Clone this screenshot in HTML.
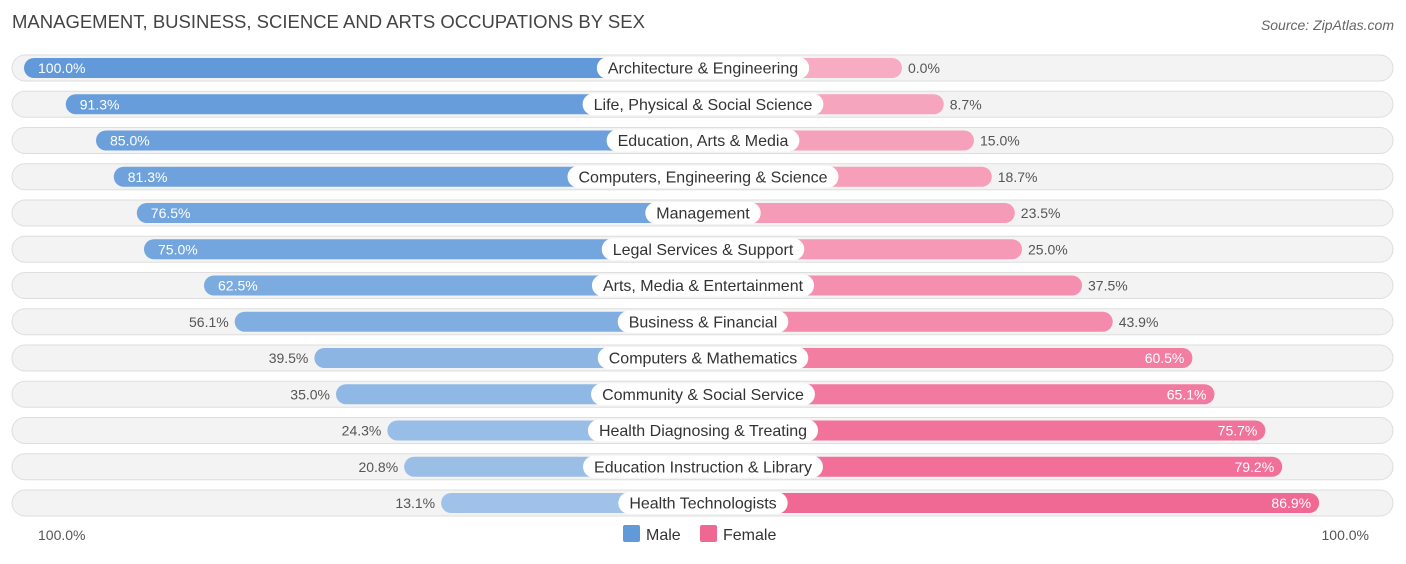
<!DOCTYPE html>
<html><head><meta charset="utf-8">
<style>
body{margin:0;background:#fff;font-family:"Liberation Sans",sans-serif;}
svg text{font-family:"Liberation Sans",sans-serif;}
</style></head>
<body>
<svg id="chart" width="1406" height="559" xmlns="http://www.w3.org/2000/svg">
<text x="12" y="28" font-size="18.5" fill="#444">MANAGEMENT, BUSINESS, SCIENCE AND ARTS OCCUPATIONS BY SEX</text>
<text x="1394" y="30" font-size="14" fill="#666" font-style="italic" text-anchor="end">Source: ZipAtlas.com</text>
<g id="rows"></g>
<text x="38" y="540" font-size="14" fill="#555">100.0%</text>
<text x="1369" y="540" font-size="14" fill="#555" text-anchor="end">100.0%</text>
<rect x="623" y="525" width="17" height="17" rx="2" fill="#6199d9"/>
<text x="646" y="540" font-size="16" fill="#333">Male</text>
<rect x="700" y="525" width="17" height="17" rx="2" fill="#f06792"/>
<text x="723" y="540" font-size="16" fill="#333">Female</text>
</svg>
<script>
const categories=["Architecture & Engineering","Life, Physical & Social Science","Education, Arts & Media","Computers, Engineering & Science","Management","Legal Services & Support","Arts, Media & Entertainment","Business & Financial","Computers & Mathematics","Community & Social Service","Health Diagnosing & Treating","Education Instruction & Library","Health Technologists"];
const maleValues=[100.0,91.3,85.0,81.3,76.5,75.0,62.5,56.1,39.5,35.0,24.3,20.8,13.1];
const femaleValues=[0.0,8.7,15.0,18.7,23.5,25.0,37.5,43.9,60.5,65.1,75.7,79.2,86.9];
const NS="http://www.w3.org/2000/svg";
const center=703, scale=4.8, maleZero=504, femaleZero=902;
const rowY=i=>68+i*36.25;
const xMale=v=>maleZero-v*scale;
const xFemale=v=>femaleZero+v*scale;
function mix(a,b,t){return 'rgb('+a.map((c,i)=>Math.round(c+(b[i]-c)*t)).join(',')+')';}
const mLight=[170,200,235],mDark=[97,153,217],fLight=[247,172,196],fDark=[240,103,146];
const g=document.getElementById('rows');
function el(tag,attrs){const e=document.createElementNS(NS,tag);for(const k in attrs)e.setAttribute(k,attrs[k]);return e;}
categories.forEach((cat,i)=>{
  const y=rowY(i);
  const row=el('g',{});
  
  
  g.appendChild(row);
  const track=el('rect',{x:12,y:y-13,width:1381,height:26,rx:13,fill:'#f3f3f3',stroke:'#dedede','stroke-width':1});
  
  
  row.appendChild(track);
  const mv=maleValues[i], fv=femaleValues[i];
  const mx=xMale(mv);
  const mb=el('rect',{x:mx,y:y-10,width:center-mx,height:20,rx:10,fill:mix(mLight,mDark,Math.min(1,mv/100))});
  
  
  row.appendChild(mb);
  const fx=xFemale(fv);
  const fb=el('rect',{x:center,y:y-10,width:fx-center,height:20,rx:10,fill:mix(fLight,fDark,Math.min(1,fv/90))});
  
  
  row.appendChild(fb);
  const lb=el('rect',{x:center-50,y:y-11,width:100,height:22,rx:11,fill:'#fff'});
  
  
  row.appendChild(lb);
  const lt=el('text',{x:center,y:y+5.5,'font-size':16,fill:'#333','text-anchor':'middle'});
  lt.textContent=cat;
  
  
  row.appendChild(lt);
  const w=lt.getComputedTextLength()+22;
  lb.setAttribute('x',center-w/2);
  lb.setAttribute('width',w);
  const mInside=mv>=60;
  const mt=el('text',{x:mInside?mx+14:mx-6,y:y+5,'font-size':14,fill:mInside?'#fff':'#555','text-anchor':mInside?'start':'end'});
  mt.textContent=mv.toFixed(1)+'%';
  
  
  row.appendChild(mt);
  const fInside=fv>=60;
  const ft=el('text',{x:fInside?fx-8:fx+6,y:y+5,'font-size':14,fill:fInside?'#fff':'#555','text-anchor':fInside?'end':'start'});
  ft.textContent=fv.toFixed(1)+'%';
  
  
  row.appendChild(ft);
});
</script>
</body></html>
